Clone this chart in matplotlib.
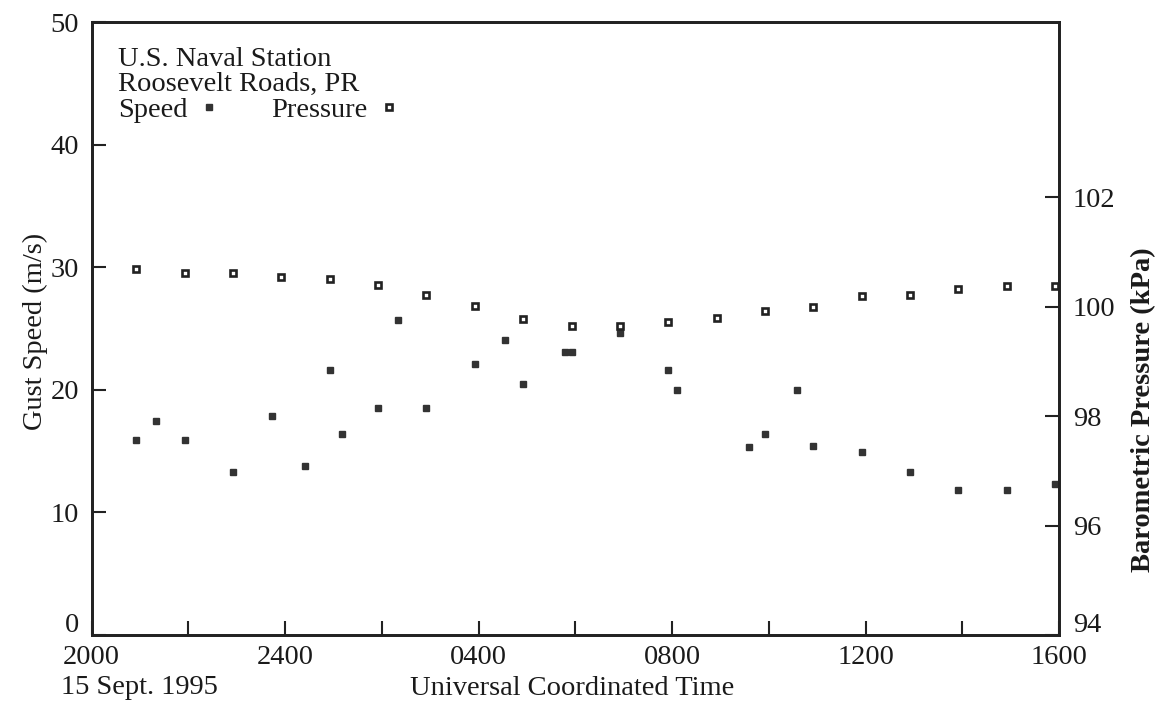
# gust speed and barometric pressure, NS Roosevelt Roads, 15-16 Sept 1995
import matplotlib.pyplot as plt
import matplotlib.transforms as mtransforms

plt.rcParams['font.family'] = ['Liberation Serif', 'DejaVu Serif']
plt.rcParams['font.size'] = 20.5
plt.rcParams['text.color'] = '#1a1a1a'
plt.rcParams['axes.labelcolor'] = '#1a1a1a'
plt.rcParams['xtick.color'] = '#1a1a1a'
plt.rcParams['ytick.color'] = '#1a1a1a'

# hours after 2000 UTC, 15 Sept 1995
speed_hr = [0.92, 1.33, 1.92, 2.92, 3.72, 4.40, 4.92, 5.17, 5.92, 6.33,
            6.92, 7.92, 8.54, 8.92, 9.79, 9.92, 10.92, 11.92, 12.10, 13.58,
            13.92, 14.59, 14.92, 15.92, 16.92, 17.92, 18.92, 19.92]
speed_ms = [15.9, 17.45, 15.9, 13.3, 17.9, 13.8, 21.6, 16.4, 18.5, 25.7,
            18.5, 22.1, 24.1, 20.5, 23.1, 23.1, 24.6, 21.6, 20.0, 15.3,
            16.4, 20.0, 15.4, 14.9, 13.3, 11.8, 11.8, 12.3]

press_hr = [0.92, 1.92, 2.92, 3.92, 4.92, 5.92, 6.92, 7.92, 8.92, 9.92,
            10.92, 11.92, 12.92, 13.92, 14.92, 15.92, 16.92, 17.92, 18.92, 19.92]
press_kpa = [100.69, 100.62, 100.61, 100.54, 100.51, 100.39, 100.21, 100.01, 99.78, 99.65,
             99.65, 99.71, 99.80, 99.92, 100.00, 100.20, 100.22, 100.33, 100.37, 100.37]

xtick_hr = [0, 2, 4, 6, 8, 10, 12, 14, 16, 18, 20]
xtick_lbl = ['2000', '', '2400', '', '0400', '', '0800', '', '1200', '', '1600']
speed_ticks = [0, 10, 20, 30, 40, 50]
press_ticks = [94, 96, 98, 100, 102]

ink = '#222222'

fig = plt.figure(figsize=(11.67, 7.06), dpi=100)
ax = fig.add_axes([0.0786, 0.1006, 0.8289, 0.8682])
ax2 = ax.twinx()

sp, = ax.plot(speed_hr, speed_ms, ls='none', marker='s', ms=4.8,
              color='#333333', mec='#333333', clip_on=False)
pr, = ax2.plot(press_hr, press_kpa, ls='none', marker='s', ms=4.3,
               mfc='white', mec=ink, mew=1.9, clip_on=False)

ax.set_xlim(0, 20)
ax.set_ylim(0, 50)
ax2.set_ylim(94, 105.2)

ax.set_xticks(xtick_hr)
ax.set_xticklabels(xtick_lbl)
ax.set_yticks(speed_ticks)
ax2.set_yticks(press_ticks)

for a in (ax, ax2):
    for s in a.spines.values():
        s.set_linewidth(2.0)
        s.set_color(ink)
ax.tick_params(axis='both', direction='in', length=10, width=1.5, color=ink)
ax.tick_params(axis='y', pad=9)
ax.tick_params(axis='x', pad=7)
ax2.tick_params(axis='y', direction='in', length=10, width=1.5, color=ink, pad=10)

# lift the bottom-most y labels off the time labels
lift = mtransforms.ScaledTranslation(0, 9 / 72, fig.dpi_scale_trans)
for lbl in (ax.get_yticklabels()[0], ax2.get_yticklabels()[0]):
    lbl.set_transform(lbl.get_transform() + lift)

ax.set_ylabel('Gust Speed (m/s)', va='center')
ax.yaxis.set_label_coords(-0.058, 0.495)
ax2.set_ylabel('Barometric Pressure (kPa)', fontweight='bold', va='center')
ax2.yaxis.set_label_coords(1.087, 0.367)
ax.set_xlabel('Universal Coordinated Time', va='top')
ax.xaxis.set_label_coords(0.497, -0.067)
fig.text(61 / 1167, 1 - 688 / 706, '15 Sept. 1995', va='center', ha='left')

ax2.text(0.0272, 0.960, 'U.S. Naval Station\nRoosevelt Roads, PR',
         transform=ax.transAxes, va='top', ha='left', linespacing=1.03)
ax2.legend([sp, pr], ['Speed', 'Pressure'], loc='center left',
           bbox_to_anchor=(0.0272, 0.856), ncol=2, markerfirst=False,
           frameon=False, numpoints=1, borderpad=0, borderaxespad=0,
           handlelength=0.8, handletextpad=0.35, columnspacing=1.8,
           fontsize=20.5)

fig.savefig('out.png', dpi=100)
